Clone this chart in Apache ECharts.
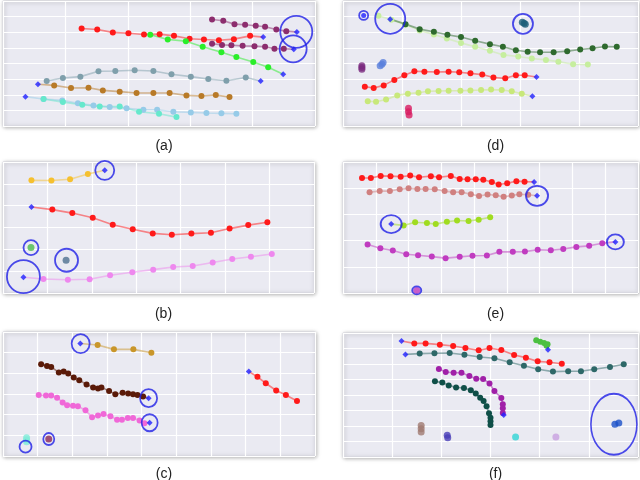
<!DOCTYPE html>
<html>
<head>
<meta charset="utf-8">
<script src="https://cdn.jsdelivr.net/npm/echarts@6/dist/echarts.min.js"></script>
<style>html,body{margin:0;background:#fff}#main{width:640px;height:480px}</style>
</head>
<body>
<div id="main"></div>
<script>
// values are in grid cells: x to the right, y downward from the top of each panel
// (a)
var aPurpleUpper = [[3.35,1.18],[3.53,1.26],[3.71,1.48],[3.88,1.52],[4.05,1.58],[4.20,1.65],[4.38,1.82],[4.54,1.93],[4.71,1.99]];
var aPurpleLower = [[3.35,2.74],[3.51,2.81],[3.66,2.83],[3.84,2.87],[4.03,2.89],[4.20,2.93],[4.35,3.06],[4.50,3.06],[4.66,3.08]];
var aRed = [[1.26,1.76],[1.51,1.82],[1.76,2.01],[2.01,2.06],[2.26,2.14],[2.51,2.12],[2.74,2.23],[2.99,2.42],[3.22,2.46],[3.46,2.51],[3.70,2.44],[3.96,2.23],[4.17,2.31]];
var aGreen = [[2.36,2.16],[2.64,2.46],[2.93,2.57],[3.20,2.93],[3.50,3.28],[3.74,3.58],[4.01,3.90],[4.25,4.24],[4.49,4.69]];
var aSteel = [[0.70,5.12],[0.96,4.93],[1.24,4.84],[1.53,4.50],[1.80,4.48],[2.11,4.43],[2.41,4.48],[2.70,4.69],[3.01,4.84],[3.29,4.99],[3.58,5.10],[3.89,4.90],[4.13,5.12]];
var aOchre = [[0.56,5.33],[0.82,5.40],[1.09,5.57],[1.37,5.55],[1.60,5.72],[1.87,5.80],[2.14,5.89],[2.41,5.89],[2.67,5.89],[2.94,6.04],[3.18,6.08],[3.41,6.02],[3.63,6.15]];
var aSky = [[0.36,6.12],[0.65,6.27],[0.95,6.36],[1.20,6.55],[1.45,6.68],[1.71,6.79],[1.98,6.87],[2.25,6.96],[2.47,6.96],[2.73,7.09],[3.01,7.13],[3.26,7.17],[3.50,7.19],[3.74,7.22]];
var aAqua = [[0.65,6.27],[0.96,6.47],[1.27,6.64],[1.55,6.75],[1.87,6.75],[2.18,7.09],[2.50,7.22],[2.78,7.43]];
var aCircles = [[4.70,1.97,32,32],[4.65,3.06,27,27]];

// (b)
var bYellow = [[0.64,0.84],[1.09,0.85],[1.51,0.79],[1.91,0.55],[2.29,0.38]];
var bRed = [[0.64,2.06],[1.11,2.18],[1.56,2.34],[2.02,2.55],[2.47,2.87],[2.92,3.08],[3.37,3.27],[3.80,3.33],[4.24,3.28],[4.68,3.24],[5.10,3.05],[5.52,2.89],[5.95,2.76]];
var bViolet = [[0.46,5.28],[0.91,5.36],[1.46,5.39],[1.95,5.37],[2.41,5.19],[2.91,5.05],[3.38,4.93],[3.83,4.81],[4.27,4.76],[4.72,4.60],[5.16,4.44],[5.58,4.34],[6.05,4.21]];
var bGreenDot = [[0.63,3.92]];
var bSlateDot = [[1.42,4.50]];
var bCircles = [[2.29,0.38,19,19],[0.63,3.92,15,15],[1.43,4.50,23,23],[0.46,5.25,33,33]];

// (c)
var cGold = [[2.23,0.56],[2.73,0.63],[3.20,0.84],[3.76,0.84],[4.28,1.00]];
var cBrown = [[1.10,1.56],[1.27,1.64],[1.39,1.69],[1.61,1.96],[1.75,1.91],[1.88,2.01],[2.04,2.20],[2.20,2.33],[2.41,2.54],[2.60,2.68],[2.74,2.73],[2.84,2.68],[3.06,2.85],[3.24,3.01],[3.45,2.94],[3.61,2.97],[3.75,3.01],[3.88,3.05],[4.04,3.12],[4.20,3.20]];
var cPink = [[1.03,3.05],[1.24,3.07],[1.39,3.07],[1.56,3.18],[1.72,3.41],[1.85,3.54],[2.02,3.57],[2.16,3.59],[2.38,3.79],[2.57,4.12],[2.74,4.04],[2.90,3.97],[3.10,4.08],[3.29,4.24],[3.43,4.24],[3.60,4.16],[3.75,4.16],[3.94,4.28],[4.08,4.41],[4.23,4.39]];
var cRed = [[7.09,1.91],[7.34,2.17],[7.58,2.48],[7.88,2.83],[8.16,3.05],[8.48,3.34]];
var cCyan = [[0.68,5.12],[0.68,5.22],[0.68,5.31]];
var cMaroon = [[1.32,5.18]];
var cCircles = [[2.24,0.56,18,19],[4.20,3.20,17,18],[4.23,4.39,16,17],[0.65,5.55,12,12],[1.32,5.18,11,12]];

// (d)
var dDark = [[0.80,1.16],[1.06,1.48],[1.30,1.80],[1.54,1.97],[1.77,2.16],[2.00,2.31],[2.24,2.55],[2.49,2.76],[2.71,2.93],[2.93,3.15],[3.13,3.25],[3.34,3.28],[3.57,3.28],[3.80,3.21],[4.02,3.10],[4.23,3.02],[4.44,2.91],[4.64,2.93]];
var dPale = [[0.60,0.94],[0.82,1.20],[1.06,1.52],[1.30,1.88],[1.54,2.14],[1.76,2.40],[2.00,2.68],[2.24,2.93],[2.49,3.19],[2.72,3.45],[2.97,3.55],[3.20,3.68],[3.44,3.77],[3.65,3.88],[3.90,4.05],[4.15,4.07]];
var dRed = [[0.37,5.48],[0.52,5.57],[0.69,5.40],[0.87,5.05],[1.04,4.75],[1.21,4.50],[1.38,4.52],[1.59,4.54],[1.79,4.52],[1.97,4.56],[2.16,4.63],[2.36,4.71],[2.55,4.90],[2.75,4.95],[2.93,4.75],[3.08,4.75],[3.28,4.86]];
var dLime = [[0.42,6.42],[0.56,6.45],[0.73,6.30],[0.92,6.04],[1.10,5.93],[1.28,5.87],[1.44,5.78],[1.62,5.76],[1.79,5.74],[1.99,5.74],[2.16,5.72],[2.34,5.70],[2.51,5.67],[2.69,5.70],[2.86,5.78],[3.03,5.93],[3.21,6.10]];
var dBlueDot = [[0.35,0.92]];
var dTealBlob = [[3.04,1.36],[3.07,1.42],[3.09,1.48]];
var dPurpleBlob = [[0.32,4.15],[0.32,4.26],[0.32,4.37]];
var dCornBlob = [[0.68,3.94],[0.66,4.05],[0.63,4.15]];
var dRoseBlob = [[1.11,6.87],[1.11,7.09],[1.12,7.30]];
var dCircles = [[0.80,1.14,30,30],[0.35,0.92,9,9],[3.05,1.46,20,20]];

// (e)
var eRed = [[0.58,0.61],[0.85,0.61],[1.15,0.53],[1.45,0.54],[1.76,0.56],[2.05,0.52],[2.32,0.58],[2.68,0.54],[2.93,0.58],[3.29,0.53],[3.56,0.65],[3.80,0.66],[4.05,0.66],[4.28,0.68],[4.54,0.76],[4.75,0.86],[5.01,0.81],[5.29,0.73],[5.54,0.75],[5.83,0.76]];
var eRose = [[0.81,1.15],[1.12,1.11],[1.43,1.11],[1.73,1.04],[2.00,1.00],[2.27,1.03],[2.52,1.03],[2.80,1.04],[3.10,1.11],[3.36,1.15],[3.62,1.15],[3.90,1.23],[4.15,1.30],[4.41,1.24],[4.66,1.27],[4.90,1.33],[5.15,1.28],[5.38,1.23],[5.65,1.25],[5.92,1.29]];
var eLime = [[1.47,2.37],[1.85,2.42],[2.20,2.30],[2.56,2.33],[2.83,2.37],[3.17,2.28],[3.48,2.23],[3.83,2.25],[4.14,2.20],[4.49,2.11]];
var eMagenta = [[0.75,3.15],[1.14,3.29],[1.52,3.38],[1.93,3.52],[2.29,3.56],[2.71,3.61],[3.13,3.67],[3.56,3.62],[3.95,3.58],[4.39,3.57],[4.77,3.43],[5.18,3.43],[5.55,3.42],[5.94,3.35],[6.34,3.37],[6.72,3.32],[7.12,3.24],[7.51,3.20],[7.91,3.10],[8.31,3.05]];
var eMagDot = [[2.25,4.90]];
var eCircles = [[5.92,1.29,22,20],[1.47,2.37,21,18],[8.31,3.05,17,15],[2.25,4.90,9,8]];

// (f)
var fRed = [[1.19,0.52],[1.45,0.67],[1.68,0.67],[1.97,0.75],[2.24,0.84],[2.49,0.97],[2.76,1.12],[2.98,0.97],[3.22,1.10],[3.48,1.42],[3.72,1.59],[3.96,1.83],[4.20,1.89],[4.45,1.98]];
var fTeal = [[1.27,1.38],[1.56,1.33],[1.86,1.31],[2.17,1.29],[2.47,1.40],[2.78,1.55],[3.08,1.63],[3.39,1.89],[3.68,2.11],[3.97,2.34],[4.27,2.49],[4.58,2.47],[4.84,2.47],[5.11,2.34],[5.43,2.19],[5.71,2.02]];
var fGreen = [[3.93,0.47],[4.01,0.56],[4.09,0.65],[4.16,0.73],[4.14,0.82],[4.17,1.08]];
var fPurple = [[1.95,2.32],[2.09,2.52],[2.25,2.56],[2.41,2.56],[2.57,2.77],[2.71,2.95],[2.85,2.97],[2.98,3.25],[3.08,3.74],[3.22,4.19],[3.25,4.60],[3.25,4.86],[3.25,5.16],[3.27,5.29]];
var fDeep = [[1.87,3.12],[2.02,3.20],[2.15,3.38],[2.30,3.51],[2.46,3.55],[2.60,3.70],[2.70,3.91],[2.79,4.17],[2.86,4.39],[2.92,4.73],[2.97,5.18],[3.00,5.46],[3.00,5.70],[3.00,5.94]];
var fTaupeBlob = [[1.59,5.96],[1.59,6.17],[1.59,6.39]];
var fIndigoBlob = [[2.12,6.60],[2.13,6.75]];
var fTurqDot = [[3.51,6.71]];
var fLavDot = [[4.33,6.71]];
var fBlueBlob = [[5.53,5.89],[5.61,5.81]];
var fCircles = [[5.51,5.89,46,61]];

var captions = ['(a)', '(b)', '(c)', '(d)', '(e)', '(f)'];

var panels = [
  {left: 3, top: 1, width: 312, height: 125, cols: 5, rows: 8},
  {left: 3, top: 162, width: 311, height: 131, cols: 7, rows: 6},
  {left: 3, top: 332, width: 312, height: 124, cols: 9, rows: 6},
  {left: 343, top: 1, width: 295, height: 125, cols: 5, rows: 8},
  {left: 343, top: 162, width: 295, height: 131, cols: 9, rows: 5},
  {left: 343, top: 333, width: 295, height: 124, cols: 6, rows: 8}
];
var captionTop = [134, 302, 462, 134, 302, 462];

var RED = '#ff1a1a';
var tracks = [
  [0, aPurpleUpper, '#8c2d6e', 'end'], [0, aPurpleLower, '#8c2d6e', 'end'],
  [0, aRed, RED, 'end'], [0, aGreen, '#2aee2a', 'end'],
  [0, aSteel, '#7f9fab', 'end'], [0, aOchre, '#b87a28', 'start'],
  [0, aSky, '#96cbe8', 'start'], [0, aAqua, '#66e8cc', null],
  [1, bYellow, '#f5c030', 'end'], [1, bRed, RED, 'start'], [1, bViolet, '#ee88ee', 'start'],
  [2, cGold, '#c9962a', 'start'], [2, cBrown, '#5a1a08', 'end'],
  [2, cPink, '#f068d8', 'end'], [2, cRed, RED, 'start'],
  [3, dPale, '#c6ee9e', null], [3, dDark, '#2e6a2e', 'start'],
  [3, dRed, RED, 'end'], [3, dLime, '#c8e87a', 'end'],
  [4, eRed, RED, 'end'], [4, eRose, '#d08080', 'end'],
  [4, eLime, '#a0dc20', 'start'], [4, eMagenta, '#c03cc0', 'end'],
  [5, fRed, RED, 'start'], [5, fTeal, '#2e6868', 'start'],
  [5, fGreen, '#4cc040', 'end'], [5, fPurple, '#a020a8', 'end'], [5, fDeep, '#0f4f48', null]
];
var blobs = [
  [1, bGreenDot, '#4cbb4c'], [1, bSlateDot, '#4f7090'],
  [2, cCyan, '#80ecd8'], [2, cMaroon, '#8b2555'],
  [3, dBlueDot, '#2020ff'], [3, dTealBlob, '#1e5f78'], [3, dPurpleBlob, '#7a2a80'],
  [3, dCornBlob, '#5a80dc'], [3, dRoseBlob, '#d81b60'],
  [4, eMagDot, '#c03cc0'],
  [5, fTaupeBlob, '#a07a72'], [5, fIndigoBlob, '#4a3fb8'], [5, fTurqDot, '#30d4d4'],
  [5, fLavDot, '#c8a0e0'], [5, fBlueBlob, '#1a50c8']
];
var circles = [aCircles, bCircles, cCircles, dCircles, eCircles, fCircles];

var grids = [], xAxes = [], yAxes = [], titles = [], series = [];
panels.forEach(function (p, i) {
  grids.push({
    left: p.left, top: p.top, width: p.width, height: p.height,
    show: true, backgroundColor: '#eaeaf2', borderColor: '#d4d4dc', borderWidth: 1,
    shadowColor: 'rgba(0,0,0,0.35)', shadowBlur: 4, shadowOffsetX: 1, shadowOffsetY: 1
  });
  var ax = {
    gridIndex: i, type: 'value', min: 0, interval: 1,
    axisLine: {show: false}, axisTick: {show: false}, axisLabel: {show: false},
    splitLine: {lineStyle: {color: '#ffffff', width: 1.2}}
  };
  xAxes.push(Object.assign({}, ax, {max: p.cols}));
  yAxes.push(Object.assign({}, ax, {max: p.rows, inverse: true}));
  titles.push({
    text: captions[i], left: p.left + p.width / 2, top: captionTop[i],
    textAlign: 'center',
    textStyle: {fontFamily: 'Liberation Sans', fontSize: 14, fontWeight: 'normal', color: '#222'}
  });
});

tracks.forEach(function (t) {
  var pts = t[1];
  var markIdx = t[3] === 'start' ? 0 : (t[3] === 'end' ? pts.length - 1 : -1);
  series.push({
    type: 'line', xAxisIndex: t[0], yAxisIndex: t[0],
    data: pts.map(function (p, k) {
      return k === markIdx ? {value: p, symbol: 'none'} : {value: p};
    }),
    symbol: 'circle', symbolSize: 6,
    itemStyle: {color: t[2]},
    lineStyle: {color: t[2], opacity: 0.5, width: 1.6},
    z: 3
  });
  if (markIdx >= 0) {
    series.push({
      type: 'scatter', xAxisIndex: t[0], yAxisIndex: t[0],
      data: [pts[markIdx]], symbol: 'diamond', symbolSize: 6,
      itemStyle: {color: '#2020ff'}, z: 5
    });
  }
});

blobs.forEach(function (b) {
  series.push({
    type: 'scatter', xAxisIndex: b[0], yAxisIndex: b[0],
    data: b[1], symbol: 'circle', symbolSize: b[2] === '#2020ff' ? 5 : 7,
    itemStyle: {color: b[2]}, z: 4
  });
});

circles.forEach(function (c, i) {
  series.push({
    type: 'scatter', xAxisIndex: i, yAxisIndex: i,
    data: c, symbol: 'circle',
    symbolSize: function (v) { return [v[2], v[3]]; },
    itemStyle: {color: 'rgba(0,0,0,0)', borderColor: '#1f1fe6', borderWidth: 1.8},
    z: 6
  });
});

var chart = echarts.init(document.getElementById('main'));
chart.setOption({
  animation: false,
  title: titles,
  grid: grids,
  xAxis: xAxes,
  yAxis: yAxes,
  series: series
});
</script>
</body>
</html>
